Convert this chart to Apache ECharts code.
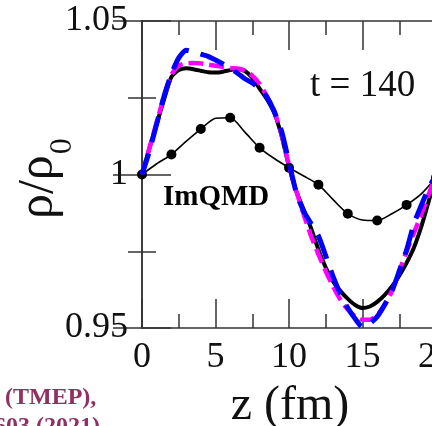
<!DOCTYPE html>
<html>
<head>
<meta charset="utf-8">
<script src="https://cdn.jsdelivr.net/npm/echarts@6/dist/echarts.min.js"></script>
<style>
  html, body { margin: 0; padding: 0; background: #ffffff; }
  #chart { width: 432px; height: 426px; }
</style>
</head>
<body>
<div id="chart"></div>
<script>
// Positions along z (fm) for the three smooth transport curves
const zFine = [0,0.5,1,1.5,2,2.5,3,3.5,4,4.5,5,5.5,6,6.5,7,7.5,8,8.5,9,9.5,10,
               10.5,11,11.5,12,12.5,13,13.5,14,14.5,15,15.5,16,16.5,17,17.5,18,18.5,19,19.5,20];

// Thick black solid curve
const rhoBlack = [1.0000,1.0085,1.0165,1.0245,1.0318,1.0340,1.0346,1.0343,1.0338,1.0333,1.0332,
                  1.0335,1.0340,1.0344,1.0337,1.0315,1.0280,1.0245,1.0200,1.0125,1.0025,
                  0.9945,0.9885,0.9825,0.9755,0.9697,0.9652,0.9620,0.9595,0.9575,0.9565,
                  0.9570,0.9585,0.9607,0.9635,0.9670,0.9712,0.9762,0.9830,0.9912,0.9995];

// Magenta dashed curve
const rhoMagenta = [1.0000,1.0085,1.0170,1.0255,1.0325,1.0355,1.0362,1.0363,1.0362,1.0358,1.0354,
                    1.0350,1.0347,1.0345,1.0338,1.0322,1.0295,1.0255,1.0205,1.0130,1.0030,
                    0.9945,0.9870,0.9800,0.9740,0.9685,0.9635,0.9592,0.9560,0.9538,0.9527,
                    0.9527,0.9542,0.9575,0.9620,0.9685,0.9750,0.9810,0.9870,0.9935,1.0000];

// Blue dashed curve
const rhoBlue = [1.0000,1.0075,1.0165,1.0255,1.0328,1.0380,1.0405,1.0400,1.0392,1.0385,1.0373,
                 1.0360,1.0345,1.0330,1.0312,1.0298,1.0280,1.0252,1.0205,1.0140,1.0040,
                 0.9940,0.9880,0.9840,0.9800,0.9735,0.9667,0.9610,0.9565,0.9530,0.9503,
                 0.9515,0.9537,0.9575,0.9620,0.9685,0.9754,0.9840,0.9900,0.9955,1.0000];

// ImQMD curve (thin line, markers on even z)
const zImQMD = [0,1,2,3,4,5,6,7,8,9,10,11,12,13,14,15,16,17,18,19,20];
const rhoImQMD = [1.0000,1.0035,1.0065,1.0108,1.0148,1.0183,1.0185,1.0138,1.0087,1.0052,1.0022,
                  0.9995,0.9967,0.9918,0.9872,0.9852,0.9850,0.9872,0.9901,0.9937,0.9990];

// Axis ranges and tick spacing
const xRange = [0, 20], xStep = 5;
const yRange = [0.95, 1.05], yStep = 0.05;

// Texts
const timeLabel = 't = 140';
const modelLabel = 'ImQMD';
const xTitle = 'z (fm)';
const yTitleMain = 'ρ/ρ';
const yTitleSub = '0';
const refLines = ['(TMEP),', '603 (2021)'];

const pairs = (xs, ys) => xs.map((x, i) => [x, ys[i]]);
const SERIF = '"Liberation Serif", "Times New Roman", serif';
const AXIS_COLOR = '#333333';

const frameAxis = {
  axisLine: { show: true, lineStyle: { color: AXIS_COLOR, width: 1.5 } },
  axisTick: { show: true, inside: true, length: 29, lineStyle: { color: AXIS_COLOR, width: 1.5 } },
  minorTick: { show: true, splitNumber: 2, length: 14, lineStyle: { color: AXIS_COLOR, width: 1.5 } },
  splitLine: { show: false },
  minorSplitLine: { show: false }
};

function xAxisDef(pos, showLabel) {
  return Object.assign({
    type: 'value', position: pos, min: xRange[0], max: xRange[1], interval: xStep,
    axisLabel: { show: showLabel, fontFamily: SERIF, fontSize: 36, color: '#111111', margin: 12 }
  }, frameAxis);
}
function yAxisDef(pos, showLabel) {
  return Object.assign({
    type: 'value', position: pos, min: yRange[0], max: yRange[1], interval: yStep,
    axisLabel: {
      show: showLabel, fontFamily: SERIF, fontSize: 36, color: '#111111', margin: 14,
      formatter: v => String(+v.toFixed(2))
    }
  }, frameAxis);
}

// Width of the main part of the y title, to place the subscript after it
const Y_MAIN_FONT = 50;
const measureCtx = document.createElement('canvas').getContext('2d');
measureCtx.font = Y_MAIN_FONT + 'px ' + SERIF;
const yMainWidth = measureCtx.measureText(yTitleMain).width;

const chart = echarts.init(document.getElementById('chart'), null, { renderer: 'canvas' });

chart.setOption({
  animation: false,
  backgroundColor: '#ffffff',
  grid: { left: 142, top: 21, width: 294, height: 307, containLabel: false, outerBoundsMode: 'none' },
  xAxis: [xAxisDef('bottom', true), xAxisDef('top', false)],
  yAxis: [yAxisDef('left', true), yAxisDef('right', false)],
  series: [
    {
      type: 'line', data: pairs(zImQMD, rhoImQMD), xAxisIndex: 0, yAxisIndex: 0,
      smooth: 0.25,
      symbol: (val, params) => (params.dataIndex % 2 === 0 ? 'circle' : 'none'),
      symbolSize: 10,
      itemStyle: { color: '#000000' },
      lineStyle: { color: '#000000', width: 1.6 },
      z: 2
    },
    {
      type: 'line', data: pairs(zFine, rhoBlack), showSymbol: false, smooth: 0.2,
      lineStyle: { color: '#000000', width: 4 },
      z: 3
    },
    {
      type: 'line', data: pairs(zFine, rhoMagenta), showSymbol: false, smooth: 0.2,
      lineStyle: { color: '#ff00ff', width: 4.5, type: [15, 6], cap: 'butt' },
      z: 4
    },
    {
      type: 'line', data: pairs(zFine, rhoBlue), showSymbol: false, smooth: 0.2,
      lineStyle: { color: '#0000ff', width: 5, type: [26, 12], cap: 'butt', dashOffset: 4 },
      z: 5
    }
  ],
  graphic: [
    {
      type: 'text', x: 310, y: 86,
      style: { text: timeLabel, font: '37px ' + SERIF, fill: '#111111', align: 'left', verticalAlign: 'middle' }
    },
    {
      type: 'text', x: 163, y: 198,
      style: { text: modelLabel, font: 'bold 29px ' + SERIF, fill: '#000000', align: 'left', verticalAlign: 'middle' }
    },
    {
      type: 'text', x: 290, y: 406,
      style: { text: xTitle, font: '48px ' + SERIF, fill: '#111111', align: 'center', verticalAlign: 'middle' }
    },
    {
      type: 'group', x: 54, y: 219, rotation: Math.PI / 2,
      children: [
        {
          type: 'text', x: 0, y: -15,
          style: { text: yTitleMain, font: Y_MAIN_FONT + 'px ' + SERIF, fill: '#111111', align: 'left', verticalAlign: 'middle' }
        },
        {
          type: 'text', x: yMainWidth + 1, y: 9,
          style: { text: yTitleSub, font: '32px ' + SERIF, fill: '#111111', align: 'left', verticalAlign: 'middle' }
        }
      ]
    },
    {
      type: 'text', x: 5, y: 398,
      style: { text: refLines[0], font: 'bold 24px ' + SERIF, fill: '#8e3160', align: 'left', verticalAlign: 'middle' }
    },
    {
      type: 'text', x: -6, y: 427,
      style: { text: refLines[1], font: 'bold 24px ' + SERIF, fill: '#8e3160', align: 'left', verticalAlign: 'middle' }
    }
  ]
});
</script>
</body>
</html>
